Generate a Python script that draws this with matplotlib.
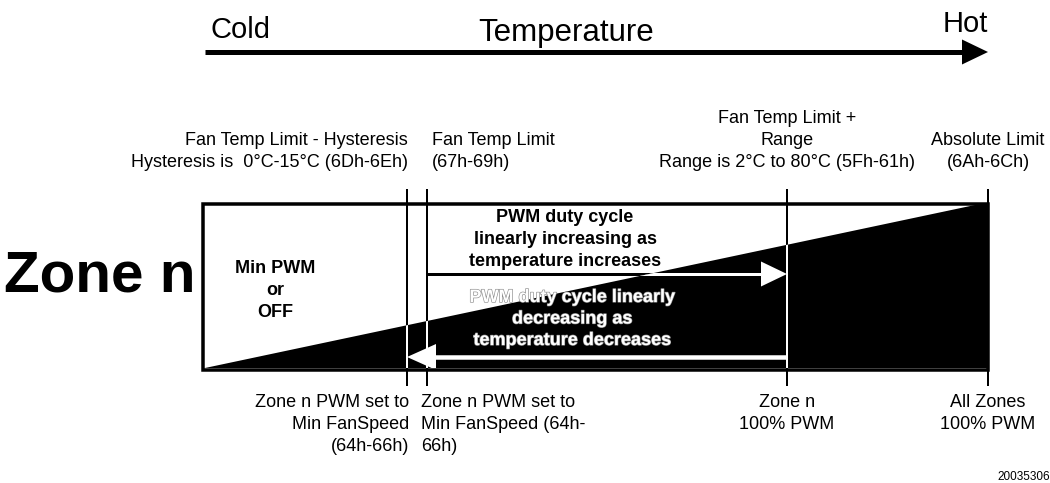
import matplotlib.pyplot as plt
import matplotlib.patheffects as pe
from matplotlib.patches import Polygon, Rectangle

plt.rcParams['font.family'] = ['Liberation Sans', 'DejaVu Sans']

# diagram geometry, in pixels of the 1050x483 canvas
box_left, box_right, box_top, box_bottom = 203, 988, 204, 370
ramp = [(205, 368), (975, 205), (988, 205), (988, 368)]   # black PWM ramp
marker_x = [407, 427, 787, 988]
marker_top, marker_bottom = 190, 385

# text blocks: (x, first baseline, align, lines)
top_labels = [
    (408, 145, 'right', ['Fan Temp Limit - Hysteresis', 'Hysteresis is  0°C-15°C (6Dh-6Eh)']),
    (432, 145, 'left', ['Fan Temp Limit', '(67h-69h)']),
    (787, 123, 'center', ['Fan Temp Limit +', 'Range', 'Range is 2°C to 80°C (5Fh-61h)']),
    (988, 145, 'center', ['Absolute Limit', '(6Ah-6Ch)']),
]
bottom_labels = [
    (409, 407, 'right', ['Zone n PWM set to', 'Min FanSpeed', '(64h-66h)']),
    (421, 407, 'left', ['Zone n PWM set to', 'Min FanSpeed (64h-', '66h)']),
    (787, 407, 'center', ['Zone n', '100% PWM']),
    (988, 407, 'center', ['All Zones', '100% PWM']),
]
increase_text = ['PWM duty cycle', 'linearly increasing as', 'temperature increases']
decrease_text = ['PWM duty cycle linearly', 'decreasing as', 'temperature decreases']
min_text = ['Min PWM', 'or', 'OFF']

fig = plt.figure(figsize=(10.5, 4.83), dpi=100)
ax = fig.add_axes([0, 0, 1, 1])
ax.set_xlim(0, 1050)
ax.set_ylim(483, 0)
ax.axis('off')

PX = 72 / 100  # pixel -> point


def lines(x, y0, texts, ha, step=22, **kw):
    for i, t in enumerate(texts):
        ax.text(x, y0 + i * step, t, ha=ha, va='baseline', **kw)


def arrow(x0, x1, y, lw, hl, hw, color, clip=None, z=5):
    d = 1 if x1 > x0 else -1
    xb = x1 - d * hl
    ln, = ax.plot([x0, xb + d], [y, y], color=color, lw=lw * PX, solid_capstyle='butt', zorder=z)
    hd = ax.fill([xb, x1, xb], [y - hw, y, y + hw], color=color, lw=0, zorder=z)[0]
    if clip is not None:
        ln.set_clip_path(clip)
        hd.set_clip_path(clip)


# temperature axis at the top
arrow(205, 988, 52, 5, 26, 12.5, 'black')
ax.text(211, 38, 'Cold', fontsize=21, va='baseline', ha='left')
ax.text(566, 41, 'Temperature', fontsize=22.5, va='baseline', ha='center')
ax.text(988, 32, 'Hot', fontsize=21, va='baseline', ha='right')

# box with ramp
ax.add_patch(Rectangle((box_left, box_top), box_right - box_left, box_bottom - box_top,
                       facecolor='white', edgecolor='none', zorder=1))
black = Polygon(ramp, closed=True, facecolor='black', edgecolor='none', zorder=2)
ax.add_patch(black)
white = Polygon([(box_left, box_top), (975, box_top), (975, 205), (205, 368), (box_left, 368)],
                closed=True, facecolor='none', edgecolor='none', zorder=0)
ax.add_patch(white)

for x in marker_x:
    ax.plot([x, x], [marker_top, marker_bottom], color='black', lw=2 * PX, zorder=3)
    seg, = ax.plot([x, x], [box_top, box_bottom], color='white', lw=2 * PX, zorder=4)
    seg.set_clip_path(black)

ax.add_patch(Rectangle((box_left, box_top), box_right - box_left, box_bottom - box_top,
                       facecolor='none', edgecolor='black', lw=3.5 * PX, zorder=8))

# increasing arrow: black over white area, white over ramp
arrow(427, 787, 274, 3, 26, 12.5, 'black', clip=white)
arrow(427, 787, 274, 3, 26, 12.5, 'white', clip=black)
# decreasing arrow
arrow(787, 407, 357, 4.5, 29, 13, 'white')

lines(565, 222, increase_text, 'center', fontsize=13, fontweight='bold', color='black', zorder=6)
lines(572, 302, decrease_text, 'center', step=21.5, fontsize=13, fontweight='bold',
      color='white', zorder=6,
      path_effects=[pe.Stroke(linewidth=0.9, foreground='#8c8c8c'), pe.Normal()])
lines(275, 273, min_text, 'center', fontsize=13, fontweight='bold', zorder=6)
ax.text(4, 292, 'Zone n', fontsize=42, fontweight='bold', ha='left', va='baseline')

for x, y0, ha, txt in top_labels + bottom_labels:
    lines(x, y0, txt, ha, fontsize=13)

ax.text(997, 480, '20035306', fontsize=8.5, ha='left', va='baseline')

fig.savefig('out.png', dpi=100)
